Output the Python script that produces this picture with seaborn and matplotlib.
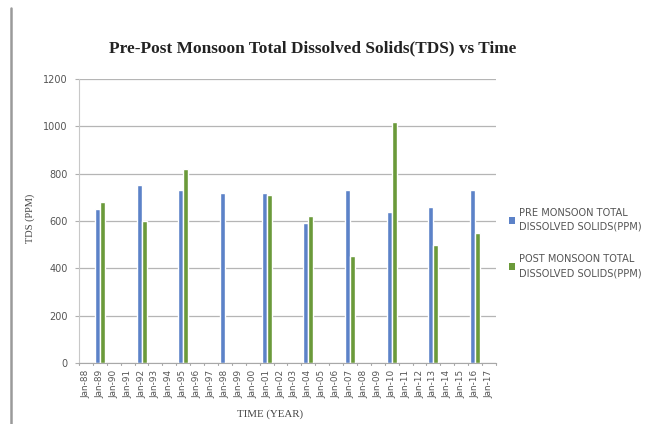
import numpy as np
import pandas as pd
import matplotlib
matplotlib.use("Agg")
import matplotlib.pyplot as plt
from matplotlib.lines import Line2D
from matplotlib.patches import Patch
import seaborn as sns

# Monthly category axis: Jan-88 .. Jan-17
years = list(range(1988, 2018))
categories = [f"Jan-{y % 100:02d}" for y in years]

# Sampling campaigns (every third year)
sample_labels = ["Jan-89", "Jan-92", "Jan-95", "Jan-98", "Jan-01",
                 "Jan-04", "Jan-07", "Jan-10", "Jan-13", "Jan-16"]
pre_monsoon = [650, 750, 730, 720, 720, 590, 730, 640, 660, 730]
post_monsoon = [680, 600, 820, 0, 710, 620, 450, 1020, 500, 550]

pre_name = "PRE MONSOON TOTAL\nDISSOLVED SOLIDS(PPM)"
post_name = "POST MONSOON TOTAL\nDISSOLVED SOLIDS(PPM)"

df = pd.DataFrame({
    "time": sample_labels * 2,
    "tds": pre_monsoon + post_monsoon,
    "series": [pre_name] * len(sample_labels) + [post_name] * len(sample_labels),
})

blue = "#5c82c8"
green = "#6b9a3a"

sns.set_style("white")
fig = plt.figure(figsize=(6.56, 4.24), dpi=100)
ax = fig.add_axes([0.1204, 0.1439, 0.6357, 0.6698])

sns.barplot(data=df, x="time", y="tds", hue="series", order=categories,
            hue_order=[pre_name, post_name], palette=[blue, green],
            width=0.72, saturation=1, ax=ax, legend=False)

ax.set_ylim(0, 1200)
ax.set_yticks(np.arange(0, 1201, 200))
ax.set_xlim(-0.5, len(categories) - 0.5)
ax.yaxis.grid(True, color="#b5b5b5", linewidth=0.9)
ax.set_axisbelow(True)

for side in ["top", "right"]:
    ax.spines[side].set_visible(False)
ax.spines["left"].set_color("#c8c8c8")
ax.spines["bottom"].set_color("#a8a8a8")

ax.tick_params(axis="y", labelsize=7, labelcolor="#555555", length=3,
               color="#b0b0b0", left=True, pad=5)
ax.set_xticks(np.arange(len(categories)))
ax.set_xticklabels(categories, rotation=90, fontsize=6.4, color="#555555")
ax.tick_params(axis="x", length=0, pad=5)
# Tick marks at the category boundaries
for b in np.arange(-0.5, len(categories), 1.0):
    ax.plot([b, b], [0, -0.008], transform=ax.get_xaxis_transform(),
            color="#a8a8a8", linewidth=0.8, clip_on=False)

ax.set_xlabel("TIME (YEAR)", family="Liberation Serif", fontsize=7.8,
              color="#444444")
ax.xaxis.set_label_coords(0.457, -0.162)
ax.set_ylabel("TDS (PPM)", family="Liberation Serif", fontsize=7.5,
              color="#444444")
ax.yaxis.set_label_coords(-0.105, 0.51)

fig.text(0.477, 0.887, "Pre-Post Monsoon Total Dissolved Solids(TDS) vs Time",
         family="Liberation Serif", fontweight="bold", fontsize=12.4,
         ha="center", va="center", color="#222222")

handles = [Patch(facecolor=blue, edgecolor="none"),
           Patch(facecolor=green, edgecolor="none")]
leg = fig.legend(handles, [pre_name, post_name], loc="center left",
                 bbox_to_anchor=(0.762, 0.427), frameon=False, fontsize=7.1,
                 labelcolor="#555555", handlelength=0.6, handleheight=0.6,
                 handletextpad=0.4, labelspacing=2.25)
for t in leg.get_texts():
    t.set_linespacing(1.5)

# Left page border
fig.add_artist(Line2D([0.0168, 0.0168], [0.0, 0.982], transform=fig.transFigure,
                      color="#9a9a9a", linewidth=1.8))

fig.savefig("out.png", dpi=100, facecolor="white")
